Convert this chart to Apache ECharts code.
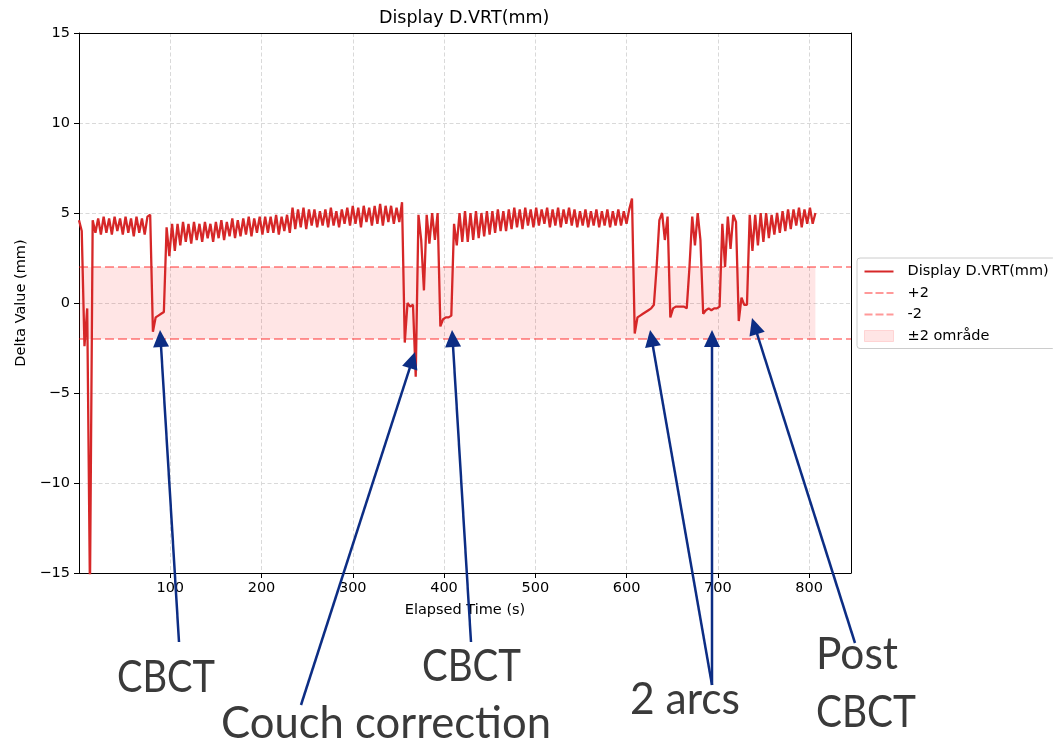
<!DOCTYPE html>
<html>
<head>
<meta charset="utf-8">
<script src="https://cdn.jsdelivr.net/npm/echarts@6/dist/echarts.min.js"></script>
<style>
html,body{margin:0;padding:0;background:#fff;}
#chart{width:1053px;height:744px;}
</style>
</head>
<body>
<div id="chart"></div>
<script>
// ---------------- data ----------------
const chartTitle = 'Display D.VRT(mm)';
const seriesName = 'Display D.VRT(mm)';
const xAxisName = 'Elapsed Time (s)';
const yAxisName = 'Delta Value (mm)';
const xRange = [0, 846];
const yRange = [-15, 15];
const xTickStep = 100;
const yTickStep = 5;
const toleranceUpper = 2;
const toleranceLower = -2;
const toleranceLabels = ['+2', '-2', '\u00b12 område'];

// sampled every SAMPLE_INTERVAL_S seconds, starting at t = 0 s
const SAMPLE_INTERVAL_S = 3;
const displayVrt = [
  4.6, 4.0, -2.4, -0.3, -16, 4.6, 3.9, 4.7, 3.8, 4.8,
  3.9, 4.7, 3.8, 4.8, 4.0, 4.7, 3.8, 4.8, 3.9, 4.7,
  3.7, 4.8, 3.9, 4.7, 3.8, 4.8, 4.9, -1.6, -0.8, -0.7,
  -0.6, -0.5, 4.2, 2.6, 4.4, 2.9, 4.4, 3.2, 4.5, 3.4,
  4.4, 3.3, 4.5, 3.5, 4.4, 3.4, 4.5, 3.6, 4.4, 3.4,
  4.5, 3.6, 4.6, 3.5, 4.5, 3.7, 4.7, 3.6, 4.6, 3.7,
  4.7, 3.8, 4.8, 3.7, 4.7, 3.9, 4.8, 3.8, 4.8, 3.9,
  4.8, 3.9, 4.9, 3.8, 4.8, 4.0, 4.9, 3.9, 5.3, 4.1,
  5.2, 4.2, 5.3, 4.1, 5.2, 4.3, 5.2, 4.2, 5.1, 4.3,
  5.2, 4.2, 5.3, 4.3, 5.1, 4.2, 5.2, 4.4, 5.3, 4.3,
  5.4, 4.4, 5.3, 4.2, 5.4, 4.5, 5.3, 4.3, 5.4, 4.4,
  5.5, 4.3, 5.4, 4.5, 5.4, 4.4, 5.3, 4.5, 5.6, -2.2,
  0.0, -0.2, -0.1, -4.1, 4.9, 3.5, 0.7, 4.9, 3.3, 5.0,
  3.5, 5.0, -1.3, -0.9, -0.8, -0.8, -0.7, 4.4, 3.2, 5.0,
  3.4, 5.1, 3.4, 5.0, 3.5, 5.1, 3.6, 5.0, 3.7, 5.1,
  3.8, 5.1, 3.9, 5.2, 4.0, 5.1, 4.0, 5.2, 4.1, 5.3,
  4.2, 5.2, 4.1, 5.3, 4.3, 5.2, 4.2, 5.3, 4.3, 5.2,
  4.4, 5.3, 4.2, 5.2, 4.3, 5.3, 4.2, 5.2, 4.4, 5.3,
  4.3, 5.2, 4.2, 5.1, 4.3, 5.2, 4.2, 5.1, 4.3, 5.2,
  4.2, 5.1, 4.3, 5.2, 4.2, 5.1, 4.3, 5.2, 4.3, 5.1,
  4.4, 5.2, 5.8, -1.7, -0.8, -0.7, -0.6, -0.5, -0.4, -0.3,
  -0.1, 2.0, 4.6, 5.0, 3.5, 4.8, -0.8, -0.3, -0.2, -0.2,
  -0.2, -0.2, -0.3, 2.0, 4.8, 3.2, 5.0, 3.5, -0.6, -0.4,
  -0.3, -0.4, -0.3, -0.3, -0.2, 4.4, 2.0, 4.8, 3.0, 4.9,
  4.5, -1.0, 0.3, -0.1, -0.1, 4.9, 2.9, 4.9, 3.2, 5.0,
  3.4, 5.0, 3.6, 4.9, 3.8, 5.0, 3.9, 5.1, 4.0, 5.2,
  4.1, 5.2, 4.3, 5.3, 4.2, 5.2, 4.4, 5.3, 4.4, 5.0
];

// annotations: arrow tip in data coords (time s, mm), tail + label in page pixels
const annotationLabels = ['CBCT', 'Couch correction', 'CBCT', '2 arcs', 'Post', 'CBCT'];
const annotationLabelPos = [[117, 678], [221, 724], [422, 667], [630, 700], [816, 655], [816, 713]];
const annotationLabelWidths = [98, 330, 99, 110, 82, 100];
const arrowTips = [[88.8, -1.5], [368.2, -2.72], [408.8, -1.5], [625.8, -1.5], [693.7, -1.5], [737.5, -0.83]];
const arrowTails = [[179, 642], [301, 705], [471, 642], [712, 685], [712, 685], [855, 643]];

// ---------------- chart ----------------
const lineData = displayVrt.map((v, i) => [i * SAMPLE_INTERVAL_S, v]);
const lastTime = (displayVrt.length - 1) * SAMPLE_INTERVAL_S;

const FONT = 'DejaVu Sans';
const TICK_FS = 14.5;
const RED = '#d62728';
const DASH_RED = 'rgba(255,0,0,0.4)';
const BAND = 'rgba(255,0,0,0.1)';
const fmtMinus = v => (v < 0 ? '\u2212' + Math.abs(v) : String(v));

const chart = echarts.init(document.getElementById('chart'), null, { renderer: 'canvas' });

const frameAxis = {
  show: true,
  axisLine: { show: true, onZero: false, lineStyle: { color: '#000', width: 1 } },
  axisTick: { show: false },
  axisLabel: { show: false },
  splitLine: { show: false },
  silent: true
};

const option = {
  animation: false,
  backgroundColor: '#ffffff',
  textStyle: { fontFamily: FONT },
  title: {
    text: chartTitle,
    left: 379,
    top: 9,
    padding: 0,
    textStyle: { fontFamily: FONT, fontSize: 17.5, fontWeight: 'normal', color: '#000' }
  },
  grid: {
    left: 79, top: 33, width: 772, height: 540,
    show: false,
    containLabel: false, outerBoundsMode: 'none'
  },
  legend: {
    orient: 'vertical',
    left: 857, top: 258,
    itemWidth: 29, itemHeight: 11, itemGap: 6.5,
    padding: [6, 7, 5, 7],
    borderColor: '#cccccc', borderWidth: 1, borderRadius: 3,
    backgroundColor: 'rgba(255,255,255,0.8)',
    textStyle: { fontFamily: FONT, fontSize: TICK_FS, color: '#000', lineHeight: 15, padding: [0, 0, 0, 9] },
    selectedMode: false,
    data: [
      { name: seriesName, icon: 'path://M0,0 L29,0 L29,2 L0,2 Z', itemStyle: { color: RED } },
      { name: toleranceLabels[0], icon: 'path://M0,0 L8,0 L8,2 L0,2 Z M11,0 L19,0 L19,2 L11,2 Z M22,0 L29,0 L29,2 L22,2 Z', itemStyle: { color: DASH_RED } },
      { name: toleranceLabels[1], icon: 'path://M0,0 L8,0 L8,2 L0,2 Z M11,0 L19,0 L19,2 L11,2 Z M22,0 L29,0 L29,2 L22,2 Z', itemStyle: { color: DASH_RED } },
      { name: toleranceLabels[2], icon: 'rect', itemStyle: { color: BAND, borderColor: 'rgba(255,0,0,0.12)', borderWidth: 1 } }
    ]
  },
  xAxis: [{
    type: 'value', position: 'bottom',
    min: xRange[0], max: xRange[1], interval: xTickStep,
    name: xAxisName, nameLocation: 'middle', nameGap: 30,
    nameTextStyle: { fontFamily: FONT, fontSize: TICK_FS, color: '#000' },
    axisLine: { show: true, onZero: false, lineStyle: { color: '#000', width: 1 } },
    axisTick: { show: true, inside: false, length: 5, lineStyle: { color: '#000', width: 1 } },
    axisLabel: { show: true, margin: 8, fontFamily: FONT, fontSize: TICK_FS, color: '#000', showMinLabel: false, showMaxLabel: false,
                 formatter: v => (v === 0 ? '' : fmtMinus(v)) },
    splitLine: { show: true, lineStyle: { color: '#d9d9d9', type: [4, 2.5], width: 1 } },
    minorTick: { show: false }
  }, Object.assign({ type: 'value', position: 'top', min: xRange[0], max: xRange[1], interval: xTickStep }, frameAxis)],
  yAxis: [{
    type: 'value', position: 'left',
    min: yRange[0], max: yRange[1], interval: yTickStep,
    name: yAxisName, nameLocation: 'middle', nameGap: 45, nameRotate: 90,
    nameTextStyle: { fontFamily: FONT, fontSize: TICK_FS, color: '#000' },
    axisLine: { show: true, onZero: false, lineStyle: { color: '#000', width: 1 } },
    axisTick: { show: true, inside: false, length: 5, lineStyle: { color: '#000', width: 1 } },
    axisLabel: { show: true, margin: 9, fontFamily: FONT, fontSize: TICK_FS, color: '#000', formatter: fmtMinus },
    splitLine: { show: true, lineStyle: { color: '#d9d9d9', type: [4, 2.5], width: 1 } }
  }, Object.assign({ type: 'value', position: 'right', min: yRange[0], max: yRange[1], interval: yTickStep }, frameAxis)],
  series: [
    {
      name: toleranceLabels[2], type: 'line', data: [], symbol: 'none', silent: true, z: 1,
      itemStyle: { color: BAND },
      markArea: {
        silent: true,
        itemStyle: { color: BAND },
        data: [[{ xAxis: 0, yAxis: toleranceLower }, { xAxis: lastTime, yAxis: toleranceUpper }]]
      }
    },
    {
      name: toleranceLabels[0], type: 'line', data: [], symbol: 'none', silent: true, z: 2,
      itemStyle: { color: DASH_RED }, lineStyle: { color: DASH_RED, type: [9, 4], width: 2 },
      markLine: {
        silent: true, symbol: ['none', 'none'], label: { show: false },
        lineStyle: { color: DASH_RED, type: [9, 4], width: 2 },
        emphasis: { disabled: true },
        data: [{ yAxis: toleranceUpper }]
      }
    },
    {
      name: toleranceLabels[1], type: 'line', data: [], symbol: 'none', silent: true, z: 2,
      itemStyle: { color: DASH_RED }, lineStyle: { color: DASH_RED, type: [9, 4], width: 2 },
      markLine: {
        silent: true, symbol: ['none', 'none'], label: { show: false },
        lineStyle: { color: DASH_RED, type: [9, 4], width: 2 },
        emphasis: { disabled: true },
        data: [{ yAxis: toleranceLower }]
      }
    },
    {
      name: seriesName, type: 'line', data: lineData, symbol: 'none', showSymbol: false,
      clip: true, z: 5, silent: true,
      itemStyle: { color: RED },
      lineStyle: { color: RED, width: 2.3 }
    }
  ]
};
chart.setOption(option);

// ---------------- annotations (arrows + callout text) ----------------
const NAVY = '#0c2d84';
const LABEL_FONT_SIZE = 44;
const LABEL_FONT = 'Lato';
const measureCtx = document.createElement('canvas').getContext('2d');
measureCtx.font = LABEL_FONT_SIZE + 'px ' + LABEL_FONT;

const graphics = [];
arrowTips.forEach((tipData, i) => {
  const tip = chart.convertToPixel({ gridIndex: 0 }, tipData);
  const tail = arrowTails[i];
  const dx = tip[0] - tail[0], dy = tip[1] - tail[1];
  const len = Math.sqrt(dx * dx + dy * dy);
  const ux = dx / len, uy = dy / len;
  const headLen = 17, halfW = 8;
  const bx = tip[0] - ux * headLen, by = tip[1] - uy * headLen;
  const nx = -uy, ny = ux;
  graphics.push({
    type: 'line', z: 100, silent: true,
    shape: { x1: tail[0], y1: tail[1], x2: bx + ux * 2, y2: by + uy * 2 },
    style: { stroke: NAVY, lineWidth: 2.5 }
  });
  graphics.push({
    type: 'polygon', z: 100, silent: true,
    shape: { points: [[tip[0], tip[1]], [bx + nx * halfW, by + ny * halfW], [bx - nx * halfW, by - ny * halfW]] },
    style: { fill: NAVY }
  });
});
annotationLabels.forEach((txt, i) => {
  const w = measureCtx.measureText(txt).width || annotationLabelWidths[i];
  graphics.push({
    type: 'text', z: 101, silent: true,
    x: annotationLabelPos[i][0], y: annotationLabelPos[i][1],
    scaleX: annotationLabelWidths[i] / w,
    style: {
      text: txt, fill: '#3a3a3a', fontFamily: LABEL_FONT, fontSize: LABEL_FONT_SIZE,
      align: 'left', verticalAlign: 'middle', textAlign: 'left', textVerticalAlign: 'middle'
    }
  });
});
chart.setOption({ graphic: { elements: graphics } });
</script>
</body>
</html>
